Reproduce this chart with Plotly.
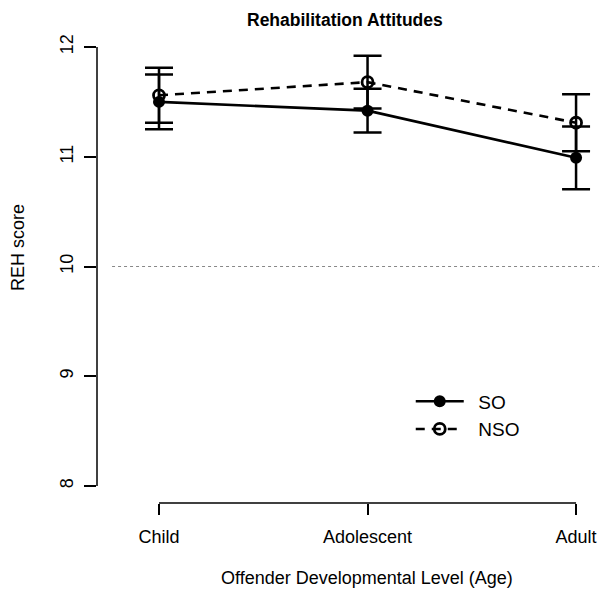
import plotly.graph_objects as go

categories = ["Child", "Adolescent", "Adult"]
x_pos = [1, 2, 3]
so_mean = [11.50, 11.42, 10.99]
so_err = [0.25, 0.20, 0.285]
nso_mean = [11.56, 11.68, 11.31]
nso_err = [0.25, 0.24, 0.26]
y_ticks = [8, 9, 10, 11, 12]
ref_line = 10
series_names = ["SO", "NSO"]

FONT = "Liberation Sans, Arial, Helvetica, sans-serif"

fig = go.Figure()
fig.add_trace(go.Scatter(
    x=x_pos, y=so_mean, name="\u2002" + series_names[0], mode="lines+markers",
    line=dict(color="black", width=2.6),
    marker=dict(symbol="circle", size=12, color="black"),
    error_y=dict(type="data", array=so_err, color="black", thickness=2.5, width=14),
))
fig.add_trace(go.Scatter(
    x=x_pos, y=nso_mean, name="\u2002" + series_names[1], mode="lines+markers",
    line=dict(color="black", width=2.6, dash="9px,7px"),
    marker=dict(symbol="circle-open", size=11, color="black", line=dict(width=2.8, color="black")),
    error_y=dict(type="data", array=nso_err, color="black", thickness=2.5, width=14),
))

# reference dotted line
fig.add_shape(type="line", xref="paper", yref="y", x0=0.03, x1=1, y0=ref_line, y1=ref_line,
              line=dict(color="#888888", width=1, dash="dot"))
# R-style axis lines
fig.add_shape(type="line", xref="x", yref="paper", x0=x_pos[0], x1=x_pos[-1], y0=0, y1=0,
              line=dict(color="black", width=1.5))
fig.add_shape(type="line", xref="paper", yref="y", x0=0, x1=0, y0=y_ticks[0], y1=y_ticks[-1],
              line=dict(color="black", width=1.5))

fig.update_layout(
    width=599, height=593,
    margin=dict(l=97, r=0, t=30, b=90),
    paper_bgcolor="white", plot_bgcolor="white",
    font=dict(family=FONT, size=18, color="black"),
    showlegend=True,
    legend=dict(x=0.625, y=0.255, xanchor="left", yanchor="top",
                bgcolor="rgba(0,0,0,0)", font=dict(size=19), itemwidth=48,
                tracegroupgap=0),
    xaxis=dict(range=[0.7026, 3.110], tickvals=x_pos, ticktext=categories,
               showgrid=False, zeroline=False, showline=False,
               ticks="outside", ticklen=11, tickwidth=1.5, tickcolor="black",
               tickfont=dict(size=18), ticklabelstandoff=6),
    yaxis=dict(range=[7.845, 12.155], tickvals=y_ticks,
               showgrid=False, zeroline=False, showline=False,
               ticks="outside", ticklen=12, tickwidth=1.5, tickcolor="black",
               tickangle=-90, tickfont=dict(size=18), ticklabelstandoff=4),
    annotations=[
        dict(text="<b>Rehabilitation Attitudes</b>", xref="paper", yref="paper",
             x=(345 - 97) / 502, y=1 + (30 - 20) / 473, showarrow=False,
             xanchor="center", yanchor="middle", font=dict(size=17.5)),
        dict(text="Offender Developmental Level (Age)", xref="paper", yref="paper",
             x=(367 - 97) / 502, y=-(578 - 503) / 473, showarrow=False,
             xanchor="center", yanchor="middle", font=dict(size=18)),
        dict(text="REH score", xref="paper", yref="paper",
             x=-(97 - 18) / 502, y=(503 - 248) / 473, showarrow=False, textangle=-90,
             xanchor="center", yanchor="middle", font=dict(size=18)),
    ],
)

fig.write_html("out.html", config={"displayModeBar": False},
               post_script="document.body.style.margin='0';document.body.style.overflow='hidden';")
